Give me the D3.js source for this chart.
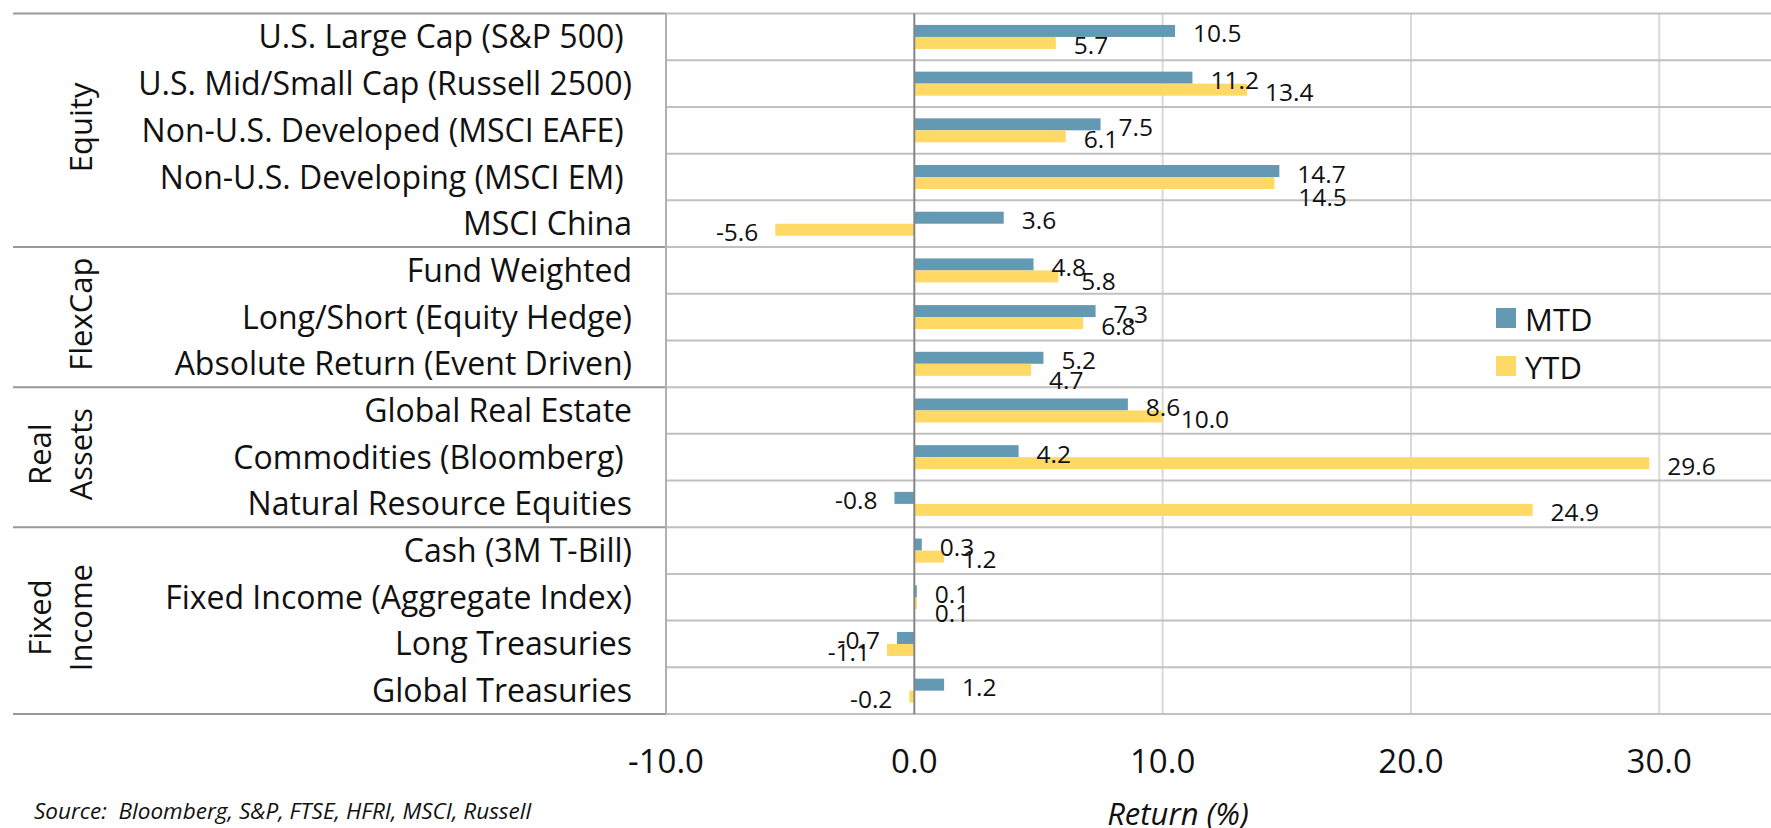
<!DOCTYPE html>
<html>
<head>
<meta charset="utf-8">
<script src="https://cdn.jsdelivr.net/npm/d3@7"></script>
<style>
  html, body { margin: 0; padding: 0; background: #fff; }
  svg { display: block; font-family: "Open Sans", sans-serif; }
  text { white-space: pre; }
</style>
</head>
<body>
<svg id="chart" width="1771" height="828"></svg>
<script>
// rows, top to bottom
const categories = [
  "U.S. Large Cap (S&P 500) ",
  "U.S. Mid/Small Cap (Russell 2500)",
  "Non-U.S. Developed (MSCI EAFE) ",
  "Non-U.S. Developing (MSCI EM) ",
  "MSCI China",
  "Fund Weighted",
  "Long/Short (Equity Hedge)",
  "Absolute Return (Event Driven)",
  "Global Real Estate",
  "Commodities (Bloomberg) ",
  "Natural Resource Equities",
  "Cash (3M T-Bill)",
  "Fixed Income (Aggregate Index)",
  "Long Treasuries",
  "Global Treasuries"
];
const groupNames = [["Equity"], ["FlexCap"], ["Real", "Assets"], ["Fixed", "Income"]];
const groupSizes = [5, 3, 3, 4];

const seriesNames = ["MTD", "YTD"];
const mtd = [10.5, 11.2, 7.5, 14.7, 3.6, 4.8, 7.3, 5.2, 8.6, 4.2, -0.8, 0.3, 0.1, -0.7, 1.2];
const ytd = [5.7, 13.4, 6.1, 14.5, -5.6, 5.8, 6.8, 4.7, 10.0, 29.6, 24.9, 1.2, 0.1, -1.1, -0.2];

const xTicks = [-10, 0, 10, 20, 30];
const xLabel = "Return (%)";
const source = "Source:  Bloomberg, S&P, FTSE, HFRI, MSCI, Russell";

// label nudges where the labels got pushed aside (series, row, dx, dy)
const labelNudges = [["YTD", 3, 6, 11], ["YTD", 5, 5, 2], ["YTD", 7, 0, 8], ["YTD", 12, 0, 7]];

const colors = { MTD: "#6399b3", YTD: "#ffd966" };

const W = 1771;
const plotLeft = 666, plotTop = 13.6, plotBottom = 714;
const barH = 12;

const fmt = v => d3.format(".1f")(v).replace("\u2212", "-");

const svg = d3.select("#chart");

const x = d3.scaleLinear().domain([-10, 34.5]).range([plotLeft, W]);
const y = d3.scaleBand().domain(categories).range([plotTop, plotBottom]);
const bw = y.bandwidth();
const ySub = d3.scaleBand().domain(seriesNames).range([0, bw])
  .paddingInner(0).paddingOuter((bw / barH - 2) / 2);

// vertical gridlines
svg.append("g").selectAll("line")
  .data(xTicks.filter(t => t !== 0 && t !== -10))
  .enter().append("line")
  .attr("x1", d => x(d)).attr("x2", d => x(d))
  .attr("y1", plotTop).attr("y2", plotBottom)
  .attr("stroke", "#d9d9d9").attr("stroke-width", 2);

// row lines inside the plot
svg.append("g").selectAll("line")
  .data(categories.slice(1))
  .enter().append("line")
  .attr("x1", plotLeft).attr("x2", W)
  .attr("y1", d => y(d)).attr("y2", d => y(d))
  .attr("stroke", "#c0c0c0").attr("stroke-width", 2);

// group boundaries across the label column
const bounds = [0];
groupSizes.forEach(n => bounds.push(bounds[bounds.length - 1] + n));
const boundY = i => i < categories.length ? y(categories[i]) : plotBottom;

svg.append("g").selectAll("line")
  .data(bounds)
  .enter().append("line")
  .attr("x1", 13).attr("x2", plotLeft)
  .attr("y1", d => boundY(d)).attr("y2", d => boundY(d))
  .attr("stroke", "#999").attr("stroke-width", 2);

svg.append("g").selectAll("line")
  .data([0, categories.length])
  .enter().append("line")
  .attr("x1", plotLeft).attr("x2", W)
  .attr("y1", d => boundY(d)).attr("y2", d => boundY(d))
  .attr("stroke", "#c0c0c0").attr("stroke-width", 2);

// plot left border
svg.append("line")
  .attr("x1", plotLeft).attr("x2", plotLeft)
  .attr("y1", plotTop).attr("y2", plotBottom)
  .attr("stroke", "#b0b0b0").attr("stroke-width", 2);

// bars
const rows = categories.map((c, i) => ({ c, i, MTD: mtd[i], YTD: ytd[i] }));

seriesNames.forEach(s => {
  svg.append("g").selectAll("rect")
    .data(rows)
    .enter().append("rect")
    .attr("x", d => x(Math.min(0, d[s])))
    .attr("y", d => y(d.c) + ySub(s))
    .attr("width", d => Math.abs(x(d[s]) - x(0)))
    .attr("height", ySub.bandwidth())
    .attr("fill", colors[s]);
});

// zero line
svg.append("line")
  .attr("x1", x(0)).attr("x2", x(0))
  .attr("y1", plotTop).attr("y2", plotBottom)
  .attr("stroke", "#858585").attr("stroke-width", 2);

// value labels
seriesNames.forEach(s => {
  svg.append("g").selectAll("text")
    .data(rows)
    .enter().append("text")
    .attr("x", d => {
      const n = labelNudges.find(k => k[0] === s && k[1] === d.i);
      return x(d[s]) + (d[s] < 0 ? -17 : 18) + (n ? n[2] : 0);
    })
    .attr("y", d => {
      const n = labelNudges.find(k => k[0] === s && k[1] === d.i);
      return y(d.c) + ySub(s) + ySub.bandwidth() / 2 + 2 + (n ? n[3] : 0);
    })
    .attr("dominant-baseline", "central")
    .attr("text-anchor", d => d[s] < 0 ? "end" : "start")
    .attr("font-size", 24.5)
    .attr("fill", "#111")
    .text(d => fmt(d[s]));
});

// category labels
svg.append("g").selectAll("text")
  .data(categories)
  .enter().append("text")
  .attr("x", 632)
  .attr("y", d => y(d) + bw / 2 - 1)
  .attr("dominant-baseline", "central")
  .attr("text-anchor", "end")
  .attr("font-size", 32)
  .attr("fill", "#111")
  .text(d => d);

// group labels, rotated
groupNames.forEach((g, gi) => {
  const cy = (boundY(bounds[gi]) + boundY(bounds[gi + 1])) / 2 - 3;
  const t = svg.append("text")
    .attr("transform", `translate(81,${cy}) rotate(-90)`)
    .attr("text-anchor", "middle")
    .attr("font-size", 31)
    .attr("fill", "#111");
  g.forEach((line, li) => {
    t.append("tspan")
      .attr("x", 0)
      .attr("y", 11 - (g.length - 1 - li) * 41.5)
      .text(line);
  });
});

// x axis tick labels
svg.append("g").selectAll("text")
  .data(xTicks)
  .enter().append("text")
  .attr("x", d => x(d))
  .attr("y", 760)
  .attr("dominant-baseline", "central")
  .attr("text-anchor", "middle")
  .attr("font-size", 33)
  .attr("fill", "#111")
  .text(d => fmt(d));

svg.append("text")
  .attr("x", 1178).attr("y", 813)
  .attr("dominant-baseline", "central")
  .attr("text-anchor", "middle")
  .attr("font-size", 31)
  .attr("font-style", "italic")
  .attr("fill", "#111")
  .text(xLabel);

svg.append("text")
  .attr("x", 34).attr("y", 810)
  .attr("dominant-baseline", "central")
  .attr("font-size", 22.5)
  .attr("font-style", "italic")
  .attr("fill", "#111")
  .text(source);

// legend
const leg = svg.append("g").attr("transform", "translate(1496,308)");
seriesNames.forEach((s, i) => {
  leg.append("rect")
    .attr("x", 0).attr("y", i * 48)
    .attr("width", 20).attr("height", 20)
    .attr("fill", colors[s]);
  leg.append("text")
    .attr("x", 29).attr("y", i * 48 + 11)
    .attr("dominant-baseline", "central")
    .attr("font-size", 31)
    .attr("fill", "#111")
    .text(s);
});
</script>
</body>
</html>
